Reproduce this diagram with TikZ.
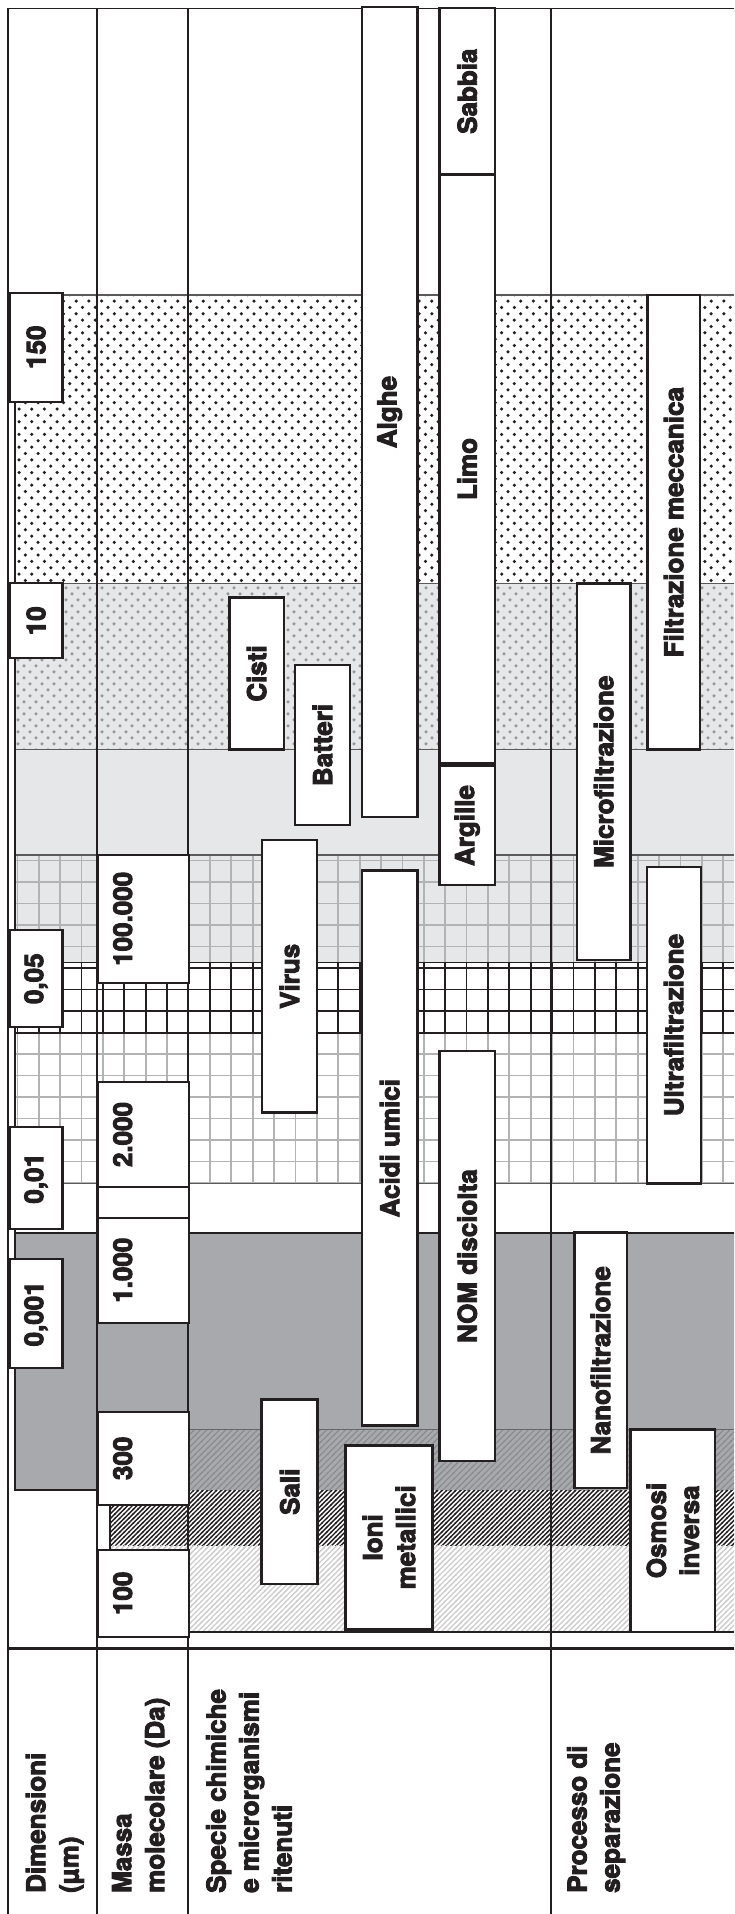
\documentclass[tikz,border=0pt]{standalone}
\usepackage{fontspec}
\setmainfont{TeX Gyre Heros}[BoldFeatures={FakeBold=3.5}]
\usetikzlibrary{patterns}

\definecolor{ink}{RGB}{35,31,32}
\definecolor{darkband}{RGB}{167,169,172}
\definecolor{lightband}{RGB}{230,231,232}
\definecolor{gridgray}{RGB}{178,179,181}
\definecolor{dotgray}{RGB}{150,151,153}
\definecolor{hatchgray}{RGB}{138,140,143}
\definecolor{paleline}{RGB}{205,205,207}

\pgfdeclarepatternformonly{finedots}{\pgfqpoint{-2pt}{-2pt}}{\pgfqpoint{8.4pt}{8.4pt}}{\pgfqpoint{12.7pt}{12.7pt}}{%
  \pgfpathcircle{\pgfqpoint{0pt}{0pt}}{1.75pt}%
  \pgfpathcircle{\pgfqpoint{6.35pt}{6.35pt}}{1.75pt}%
  \pgfusepath{fill}}
\pgfdeclarepatternformonly{softdots}{\pgfqpoint{-2pt}{-2pt}}{\pgfqpoint{8pt}{8pt}}{\pgfqpoint{12pt}{12pt}}{%
  \pgfpathcircle{\pgfqpoint{0pt}{0pt}}{1.75pt}%
  \pgfpathcircle{\pgfqpoint{6pt}{6pt}}{1.75pt}%
  \pgfusepath{fill}}
\pgfdeclarepatternformonly{densehatch}{\pgfqpoint{-1pt}{-1pt}}{\pgfqpoint{5.6pt}{5.6pt}}{\pgfqpoint{4.6pt}{4.6pt}}{%
  \pgfsetlinewidth{1.4pt}%
  \pgfpathmoveto{\pgfqpoint{-0.5pt}{-0.5pt}}%
  \pgfpathlineto{\pgfqpoint{5.1pt}{5.1pt}}%
  \pgfusepath{stroke}}
\pgfdeclarepatternformonly{widehatch}{\pgfqpoint{-1pt}{-1pt}}{\pgfqpoint{7.3pt}{7.3pt}}{\pgfqpoint{6.3pt}{6.3pt}}{%
  \pgfsetlinewidth{1.2pt}%
  \pgfpathmoveto{\pgfqpoint{-0.5pt}{-0.5pt}}%
  \pgfpathlineto{\pgfqpoint{6.8pt}{6.8pt}}%
  \pgfusepath{stroke}}
\pgfdeclarepatternformonly{lighthatch}{\pgfqpoint{-1pt}{-1pt}}{\pgfqpoint{6.3pt}{6.3pt}}{\pgfqpoint{5.3pt}{5.3pt}}{%
  \pgfsetlinewidth{1.3pt}%
  \pgfpathmoveto{\pgfqpoint{-0.5pt}{-0.5pt}}%
  \pgfpathlineto{\pgfqpoint{5.8pt}{5.8pt}}%
  \pgfusepath{stroke}}

\begin{document}
\begin{tikzpicture}[
    x=1pt, y=-1pt,
    rule/.style={ink, line width=2pt},
    gridline/.style={gridgray, line width=1.8pt},
    blackgrid/.style={ink, line width=1.8pt},
    bandedge/.style={gray!60!ink, line width=1.4pt},
    bar/.style={draw=ink, fill=white, line width=2.8pt, rotate=90, inner sep=0pt, align=center, text=ink, font=\bfseries\fontsize{26}{33}\selectfont},
    dimbox/.style={bar, line width=2.2pt, minimum height=53pt},
    massbox/.style={bar, line width=2.2pt, text height=34.6pt, text depth=56.6pt},
    spbox/.style={bar},
    hdr/.style={rotate=90, anchor=north west, inner sep=0pt, align=left, text=ink, font=\bfseries\fontsize{26}{33}\selectfont}
]
\useasboundingbox (0,0) rectangle (734,1914);
\fill[white] (0,0) rectangle (734,1914);

% size bands
\path[pattern=finedots, pattern color=ink] (15,295) rectangle (734,583.3);
\path[preaction={fill=lightband}, pattern=softdots, pattern color=dotgray] (15,583.3) rectangle (734,749.3);
\fill[lightband] (15,749.3) rectangle (734,962);
\begin{scope}
  \clip (15,855) rectangle (734,1183.3);
  \foreach \k in {0,...,33} \draw[gridline] ({17.4+21.39*\k},855) -- ++(0,328.3);
  \foreach \k in {0,...,15} \draw[gridline] (15,{860.5+21.5*\k}) -- (734,{860.5+21.5*\k});
\end{scope}
\foreach \by in {295,583.3,749.3,855,1183.3} \draw[bandedge] (15,\by) -- (734,\by);
\begin{scope}
  \clip (15,962) rectangle (734,1033);
  \fill[white] (15,962) rectangle (734,1033);
  \foreach \k in {0,...,33} \draw[blackgrid] ({17.4+21.39*\k},962) -- ++(0,71);
  \foreach \k in {5,...,8} \draw[blackgrid] (15,{860.5+21.5*\k}) -- (734,{860.5+21.5*\k});
\end{scope}
\draw[blackgrid] (15,962.5) -- (734,962.5);
\draw[blackgrid] (15,1033) -- (734,1033);
\fill[darkband] (15,1233) -- (734,1233) -- (734,1429.3) -- (97.3,1429.3) -- (97.3,1490) -- (15,1490) -- cycle;
\path[preaction={fill=darkband}, pattern=widehatch, pattern color=hatchgray] (97.3,1429.3) rectangle (734,1490);
\draw[gray!80!black, line width=1pt] (97.3,1429.3) -- (734,1429.3);
\path[pattern=densehatch, pattern color=ink] (97.3,1490) rectangle (734,1545);
\path[pattern=lighthatch, pattern color=paleline] (97.3,1545) rectangle (734,1631.7);
\draw[rule] (15,1233) -- (734,1233);
\draw[rule] (15,295) -- (15,1490) -- (97.3,1490);
\draw[rule, fill=white] (97.3,1505) rectangle (110,1550);

% table frame
\draw[rule, line width=1.6pt] (8.3,8.3) -- (734,8.3);
\draw[rule] (8.3,8.3) -- (8.3,1914);
\foreach \cx in {97.3,188.4,551.4} \draw[rule] (\cx,8.3) -- (\cx,1914);
\draw[rule] (188.4,1631.7) -- (734,1631.7);
\draw[rule, line width=3.5pt] (8.3,1648.3) -- (734,1648.3);

% dimensions
\node[dimbox, minimum width=109pt] (d150) at (36,347.2) {150};
\node[dimbox, minimum width=75pt] (d10) at (36,620.8) {10};
\node[dimbox, minimum width=97pt] (d005) at (36,978.7) {0,05};
\node[dimbox, minimum width=102pt] (d001) at (36,1178.3) {0,01};
\node[dimbox, minimum width=109pt] (d0001) at (36,1313.8) {0,001};

% molecular mass
\node[massbox, minimum width=127.7pt] (m100000) at (143,918.8) {100.000};
\node[massbox, minimum width=105.6pt] (m2000) at (143,1134.5) {2.000};
\node[massbox, minimum width=30.4pt] (mgap) at (143,1202.5) {};
\node[massbox, minimum width=105pt] (m1000) at (143,1270.2) {1.000};
\node[massbox, minimum width=93.3pt] (m300) at (143,1458.3) {300};
\node[massbox, minimum width=86.7pt] (m100) at (143,1593.3) {100};

% retained species
\node[spbox, minimum width=810pt, minimum height=55.5pt] (alghe) at (389.7,412) {Alghe};
\node[spbox, minimum width=166.5pt, minimum height=55.5pt] (sabbia) at (467.2,91.2) {Sabbia};
\node[spbox, minimum width=589pt, minimum height=55.5pt] (limo) at (467.2,469) {Limo};
\node[spbox, minimum width=119pt, minimum height=55.5pt] (argille) at (467.2,825.5) {Argille};
\node[spbox, minimum width=151.6pt, minimum height=54.7pt] (cisti) at (256.6,673.5) {Cisti};
\node[spbox, minimum width=160pt, minimum height=55pt] (batteri) at (322.5,745) {Batteri};
\node[spbox, minimum width=272.7pt, minimum height=55pt] (virus) at (289.5,976.3) {Virus};
\node[spbox, minimum width=555pt, minimum height=55.5pt] (acidi) at (389.7,1148.2) {Acidi umici};
\node[spbox, minimum width=410pt, minimum height=55.5pt] (nom) at (467.2,1256) {NOM disciolta};
\node[spbox, minimum width=184.7pt, minimum height=56pt] (sali) at (289.7,1491.7) {Sali};
\node[spbox, minimum width=184pt, minimum height=86.6pt] (ioni) at (389,1537.3) {Ioni\\metallici};

% separation processes
\node[spbox, line width=2.4pt, minimum width=454.3pt, minimum height=52.4pt] (filtmecc) at (673.6,522.2) {Filtrazione meccanica};
\node[spbox, line width=2.4pt, minimum width=376.7pt, minimum height=53.5pt] (micro) at (603.7,771.7) {Microfiltrazione};
\node[spbox, line width=2.4pt, minimum width=316.6pt, minimum height=54pt] (ultra) at (673.7,1025) {Ultrafiltrazione};
\node[spbox, line width=2.4pt, minimum width=255.3pt, minimum height=52.4pt] (nano) at (600.5,1360.3) {Nanofiltrazione};
\node[spbox, line width=2.4pt, minimum width=202.4pt, minimum height=84.3pt] (osmosi) at (672.8,1530.5) {Osmosi\\inversa};

% row headers
\node[hdr] (hdim) at (25.7,1893) {Dimensioni\\(µm)};
\node[hdr] (hmassa) at (112,1893) {Massa\\molecolare (Da)};
\node[hdr] (hspecie) at (206,1893) {Specie chimiche\\e microrganismi\\ritenuti};
\node[hdr] (hproc) at (567,1893) {Processo di\\separazione};
\end{tikzpicture}
\end{document}
